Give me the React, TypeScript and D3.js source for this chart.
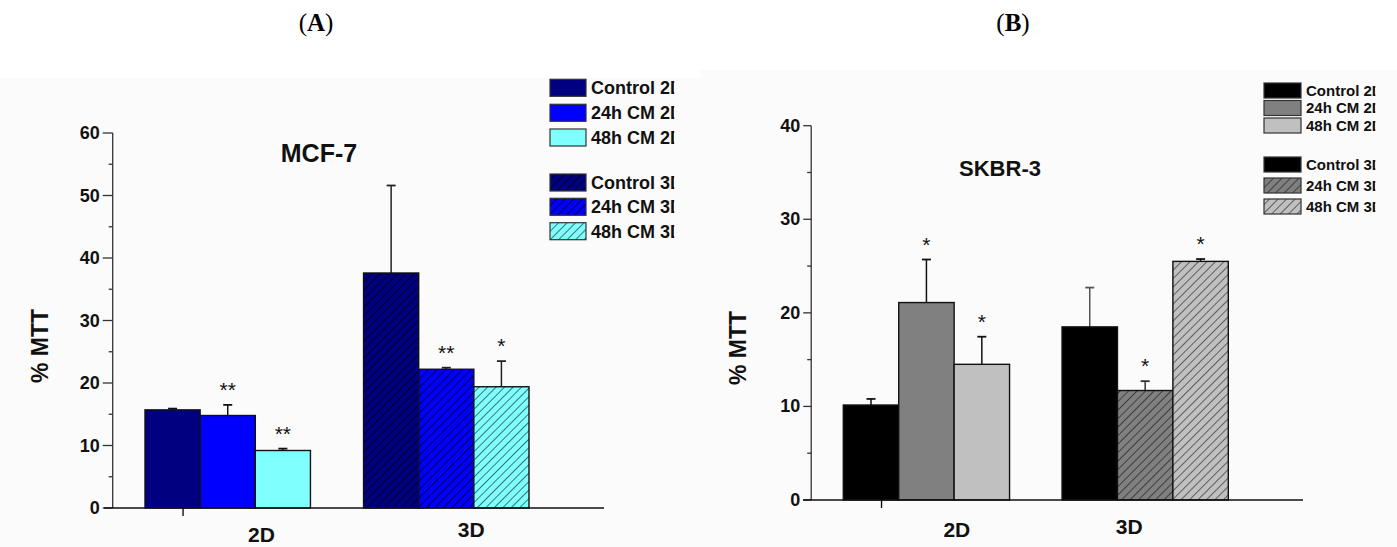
import React from "react";
import * as d3 from "d3";

const categories = ["2D", "3D"];
const seriesNames = ["Control", "24h CM", "48h CM"];

// Panel A: MCF-7
const mcfMeans2D = [15.7, 14.8, 9.2];
const mcfErr2D = [0.2, 1.7, 0.3];
const mcfMeans3D = [37.6, 22.2, 19.4];
const mcfErr3D = [14.0, 0.25, 4.1];
const mcfStars2D = ["", "**", "**"];
const mcfStars3D = ["", "**", "*"];
const mcfTicks = [0, 10, 20, 30, 40, 50, 60];
const mcfMinor = [5, 15, 25, 35, 45, 55];
const mcfColors = ["#000080", "#0000ff", "#80ffff"];

// Panel B: SKBR-3
const skMeans2D = [10.15, 21.1, 14.5];
const skErr2D = [0.65, 4.6, 2.95];
const skMeans3D = [18.5, 11.7, 25.5];
const skErr3D = [4.2, 1.0, 0.25];
const skStars2D = ["", "*", "*"];
const skStars3D = ["", "*", "*"];
const skTicks = [0, 10, 20, 30, 40];
const skMinor = [5, 15, 25, 35];
const skColors = ["#000000", "#808080", "#c0c0c0"];

const legendLabels = ["Control 2D", "24h CM 2D", "48h CM 2D", "Control 3D", "24h CM 3D", "48h CM 3D"];

const FONT = "Arial, 'Liberation Sans', Helvetica, sans-serif";

type PanelCfg = {
  id: string;
  title: string;
  letter: string;
  letterX: number;
  yMax: number;
  ticks: number[];
  minor: number[];
  means: number[][];
  errs: number[][];
  stars: string[][];
  colors: string[];
  hatchColors: string[];
  errColor: string[][];
  axisX: number;
  baseY: number;
  topY: number;
  xAxisFrom: number;
  xAxisTo: number;
  bandFrom: number;
  bandTo: number;
  padInner: number;
  majorLen: number;
  tickFont: number;
  titleX: number;
  titleY: number;
  titleSize: number;
  yLabelX: number;
  yLabelY: number;
  catOffsets: number[];
  catBaselines: number[];
  legendX: number;
  legendTops: number[];
  legendW: number;
  legendH: number;
  legendFont: number;
};

function Panel({ c }: { c: PanelCfg }) {
  const y = d3.scaleLinear().domain([0, c.yMax]).range([c.baseY, c.topY]);
  const xg = d3.scaleBand<string>().domain(categories).range([c.bandFrom, c.bandTo]).paddingInner(c.padInner).paddingOuter(0);
  const xs = d3.scaleBand<string>().domain(seriesNames).range([0, xg.bandwidth()]);
  const bw = xs.bandwidth();
  const cap = 4.5;
  const catTickX = (xg("2D") as number) + xg.bandwidth() * 0.23;
  const legTextX = c.legendX + c.legendW + 5;
  // legend box in the original cuts each label right after the stem of its last letter
  const legClip = legTextX + 4.62 * c.legendFont;

  return (
    <g>
      <defs>
        {c.colors.map((col, i) => (
          <pattern key={i} id={`${c.id}-hatch-${i}`} patternUnits="userSpaceOnUse" width={6} height={6} patternTransform="rotate(45)">
            <rect width={6} height={6} fill={col} />
            <line x1={0} y1={0} x2={0} y2={6} stroke={c.hatchColors[i]} strokeWidth={1.4} />
          </pattern>
        ))}
        <clipPath id={`${c.id}-legclip`}>
          <rect x={c.legendX - 5} y={0} width={legClip - c.legendX + 5} height={547} />
        </clipPath>
      </defs>

      {/* panel letter */}
      <text x={c.letterX} y={31} textAnchor="middle" fontFamily="'Liberation Serif', 'DejaVu Serif', serif" fontSize={25}>
        (<tspan fontWeight="bold">{c.letter}</tspan>)
      </text>

      {/* bars */}
      {categories.map((cat, gi) =>
        seriesNames.map((s, si) => {
          const v = c.means[gi][si];
          const e = c.errs[gi][si];
          const x0 = (xg(cat) as number) + (xs(s) as number);
          const cx = x0 + bw / 2;
          const fill = gi === 0 ? c.colors[si] : `url(#${c.id}-hatch-${si})`;
          const errTop = y(v + e);
          return (
            <g key={cat + s}>
              <line x1={cx} x2={cx} y1={y(v)} y2={errTop} stroke={c.errColor[gi][si]} strokeWidth={1.5} />
              <line x1={cx - cap} x2={cx + cap} y1={errTop} y2={errTop} stroke={c.errColor[gi][si]} strokeWidth={1.8} />
              <rect x={x0} y={y(v)} width={bw} height={y(0) - y(v)} fill={fill} stroke="#111" strokeWidth={1.4} />
              {c.stars[gi][si] && (
                <text x={cx} y={errTop - 8} textAnchor="middle" fontFamily={FONT} fontSize={21} fill="#111">
                  {c.stars[gi][si]}
                </text>
              )}
            </g>
          );
        })
      )}

      {/* y axis */}
      <line x1={c.axisX} x2={c.axisX} y1={y(0)} y2={y(c.yMax)} stroke="#333" strokeWidth={1.3} />
      {c.ticks.map((t) => (
        <g key={"t" + t}>
          <line x1={c.axisX - c.majorLen} x2={c.axisX} y1={y(t)} y2={y(t)} stroke="#333" strokeWidth={1.3} />
          <text x={c.axisX - c.majorLen - 3} y={y(t) + 6} textAnchor="end" fontFamily={FONT} fontWeight="bold" fontSize={c.tickFont} fill="#111">
            {t}
          </text>
        </g>
      ))}
      {c.minor.map((t) => (
        <line key={"m" + t} x1={c.axisX - 4} x2={c.axisX} y1={y(t)} y2={y(t)} stroke="#333" strokeWidth={1.3} />
      ))}

      {/* x axis */}
      <line x1={c.xAxisFrom} x2={c.xAxisTo} y1={y(0)} y2={y(0)} stroke="#111" strokeWidth={1.6} />
      <line x1={catTickX} x2={catTickX} y1={y(0)} y2={y(0) + 8} stroke="#111" strokeWidth={1.4} />
      {categories.map((cat, gi) => (
        <text key={cat} x={(xg(cat) as number) + xg.bandwidth() / 2 + c.catOffsets[gi]} y={c.catBaselines[gi]} textAnchor="middle" fontFamily={FONT} fontWeight="bold" fontSize={21} fill="#111">
          {cat}
        </text>
      ))}

      {/* title */}
      <text x={c.titleX} y={c.titleY} textAnchor="middle" fontFamily={FONT} fontWeight="bold" fontSize={c.titleSize} fill="#111">
        {c.title}
      </text>

      {/* y label */}
      <text transform={`translate(${c.yLabelX},${c.yLabelY}) rotate(-90)`} textAnchor="middle" fontFamily={FONT} fontWeight="bold" fontSize={23} fill="#111">
        % MTT
      </text>

      {/* legend */}
      <g clipPath={`url(#${c.id}-legclip)`}>
        {legendLabels.map((lab, i) => {
          const si = i % 3;
          const gi = Math.floor(i / 3);
          const fill = gi === 0 ? c.colors[si] : `url(#${c.id}-hatch-${si})`;
          const top = c.legendTops[i];
          return (
            <g key={lab}>
              <rect x={c.legendX} y={top} width={c.legendW} height={c.legendH} fill={fill} stroke="#333" strokeWidth={1.2} />
              <text x={legTextX} y={top + c.legendH / 2 + c.legendFont * 0.36} fontFamily={FONT} fontWeight="bold" fontSize={c.legendFont} fill="#111">
                {lab}
              </text>
            </g>
          );
        })}
      </g>
    </g>
  );
}

const panelA: PanelCfg = {
  id: "a",
  title: "MCF-7",
  letter: "A",
  letterX: 316,
  yMax: 60,
  ticks: mcfTicks,
  minor: mcfMinor,
  means: [mcfMeans2D, mcfMeans3D],
  errs: [mcfErr2D, mcfErr3D],
  stars: [mcfStars2D, mcfStars3D],
  colors: mcfColors,
  hatchColors: ["#000", "#000", "#1a3a3a"],
  errColor: [["#111", "#111", "#111"], ["#222", "#222", "#222"]],
  axisX: 112.7,
  baseY: 508,
  topY: 133,
  xAxisFrom: 104,
  xAxisTo: 604,
  bandFrom: 145,
  bandTo: 529,
  padInner: 0.243,
  majorLen: 10,
  tickFont: 18,
  titleX: 319,
  titleY: 162,
  titleSize: 25,
  yLabelX: 48,
  yLabelY: 346,
  catOffsets: [33.7, 25],
  catBaselines: [542, 536.5],
  legendX: 550,
  legendTops: [79.3, 104.3, 129, 174, 198.3, 222.7],
  legendW: 36,
  legendH: 17,
  legendFont: 18,
};

const panelB: PanelCfg = {
  id: "b",
  title: "SKBR-3",
  letter: "B",
  letterX: 1013,
  yMax: 40,
  ticks: skTicks,
  minor: skMinor,
  means: [skMeans2D, skMeans3D],
  errs: [skErr2D, skErr3D],
  stars: [skStars2D, skStars3D],
  colors: skColors,
  hatchColors: ["#000", "#222", "#333"],
  errColor: [["#111", "#111", "#111"], ["#555", "#333", "#111"]],
  axisX: 811.2,
  baseY: 500,
  topY: 125.7,
  xAxisFrom: 803,
  xAxisTo: 1303,
  bandFrom: 843.3,
  bandTo: 1228.3,
  padInner: 0.24,
  majorLen: 8,
  tickFont: 18,
  titleX: 1000,
  titleY: 176,
  titleSize: 22,
  yLabelX: 746,
  yLabelY: 348,
  catOffsets: [30.4, -16],
  catBaselines: [536.5, 534],
  legendX: 1264,
  legendTops: [83, 100.5, 118, 157, 178, 199],
  legendW: 37,
  legendH: 15,
  legendFont: 15,
};

export default function App() {
  return (
    <svg width={1397} height={547} style={{ position: "absolute", left: 0, top: 0, display: "block", background: "#ffffff" }}>
      <rect x={0} y={78} width={700} height={469} fill="#fbfbfb" />
      <rect x={700} y={70} width={697} height={477} fill="#fbfbfb" />
      <Panel c={panelA} />
      <Panel c={panelB} />
    </svg>
  );
}
